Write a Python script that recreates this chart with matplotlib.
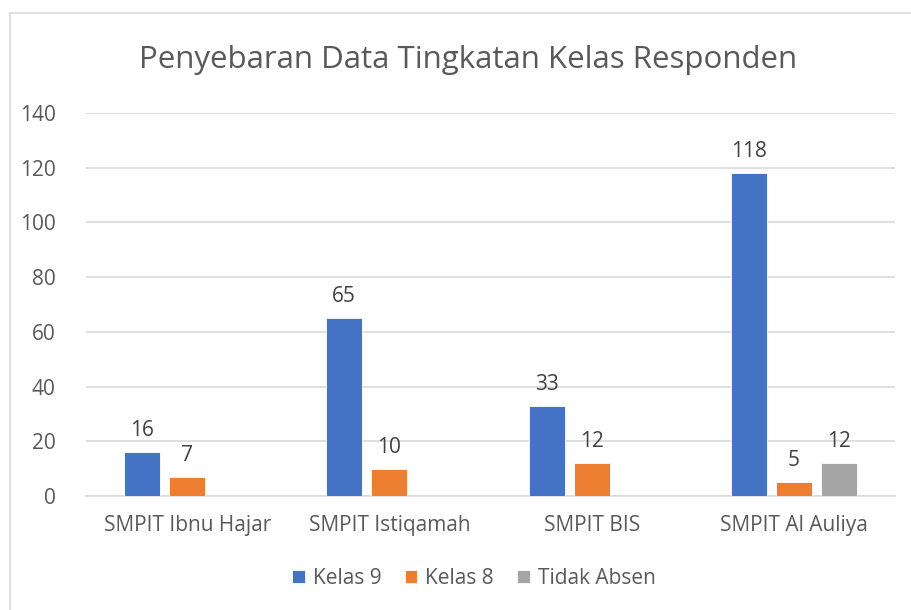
import numpy as np
import matplotlib.pyplot as plt
from matplotlib.patches import Rectangle

# Data
schools = ['SMPIT Ibnu Hajar', 'SMPIT Istiqamah', 'SMPIT BIS', 'SMPIT Al Auliya']
kelas9 = [16, 65, 33, 118]
kelas8 = [7, 10, 12, 5]
tidak_absen = [0, 0, 0, 12]

series = [('Kelas 9', kelas9, '#4472C4'),
          ('Kelas 8', kelas8, '#ED7D31'),
          ('Tidak Absen', tidak_absen, '#A5A5A5')]

plt.rcParams['font.family'] = ['Open Sans', 'DejaVu Sans']

fig = plt.figure(figsize=(9.11, 6.10), dpi=100)
ax = fig.add_axes([86 / 911, 1 - 496 / 610, (895 - 86) / 911, (496 - 113) / 610])

# chart border like Excel
fig.patches.append(Rectangle((10 / 911, -0.05), 1.0, 1 - 13 / 610 + 0.05,
                             transform=fig.transFigure, fill=False,
                             edgecolor='#D9D9D9', linewidth=1.2))

x = np.arange(len(schools))
width = 0.178
step = 0.223
for i, (name, vals, color) in enumerate(series):
    pos = x + (i - 1) * step
    bars = ax.bar(pos, vals, width, color=color, label=name, zorder=3,
                  edgecolor='white', linewidth=0.6)
    for b, v in zip(bars, vals):
        if v:
            ax.text(b.get_x() + b.get_width() / 2, v + 4, str(v),
                    ha='center', va='bottom', fontsize=15, color='#404040')

ax.set_xlim(-0.5, 3.5)
ax.set_ylim(0, 140)
ax.set_yticks(range(0, 141, 20))
ax.set_xticks(x)
ax.set_xticklabels(schools)
ax.grid(axis='y', color='#D9D9D9', linewidth=1.2, zorder=0)
for s in ['top', 'right', 'left']:
    ax.spines[s].set_visible(False)
ax.spines['bottom'].set_color('#D9D9D9')
ax.spines['bottom'].set_linewidth(1.2)
ax.tick_params(axis='both', length=0, labelsize=15, colors='#595959')
ax.tick_params(axis='x', pad=14)
ax.tick_params(axis='y', pad=22)

fig.text(468 / 911, 1 - 60 / 610, 'Penyebaran Data Tingkatan Kelas Responden',
         ha='center', va='center', fontsize=22.5, color='#595959')

leg = fig.legend(loc='center', bbox_to_anchor=(474 / 911, 1 - 578 / 610), ncol=3,
                 frameon=False, fontsize=15, handlelength=0.6, handleheight=0.6,
                 handletextpad=0.4, columnspacing=1.1)
for t in leg.get_texts():
    t.set_color('#595959')

fig.savefig('out.png', dpi=100)
